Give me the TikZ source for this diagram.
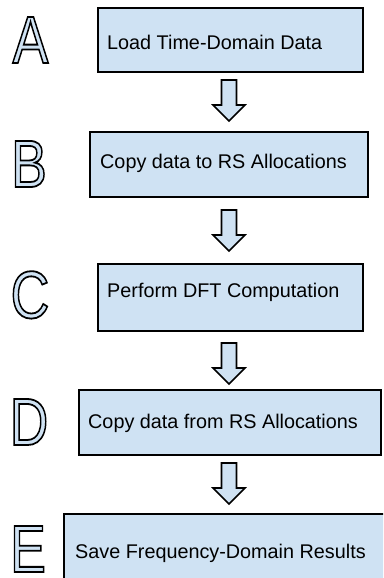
\documentclass[tikz,border=0pt]{standalone}
\usepackage{fontspec}
\setmainfont{Liberation Sans}
\definecolor{boxblue}{HTML}{CFE2F3}
\tikzset{
  stepbox/.style={draw=black, line width=1.8pt, fill=boxblue, inner sep=0pt, anchor=north west},
  openbox/.style={fill=boxblue, inner sep=0pt, anchor=north west},
  boxedge/.style={draw=black, line width=1.8pt},
  steptext/.style={anchor=west, inner sep=0pt, font=\fontsize{19.8}{24}\selectfont},
  steplabel/.style={anchor=base, inner sep=0pt, font=\fontsize{67}{67}\selectfont},
  blockarrow/.style={draw=black, line width=1.6pt, fill=boxblue, line join=miter}
}
% outlined letter: light blue fill, black stroke (text render mode 2)
\newcommand{\hollowletter}[1]{\scalebox{0.8}[1]{\color{boxblue}\special{pdf:literal direct 0 0 0 RG 1.8 w 2 Tr}#1\special{pdf:literal direct 0 Tr}}}
\begin{document}
\begin{tikzpicture}[x=1pt,y=-1pt]
\useasboundingbox (0,0) rectangle (383,578);
\clip (0,0) rectangle (383,578);

% process steps
\node[stepbox, minimum width=265pt, minimum height=64pt] (a) at (97,7) {};
\node[stepbox, minimum width=278pt, minimum height=65pt] (b) at (89,131) {};
\node[stepbox, minimum width=265pt, minimum height=67pt] (c) at (97,263) {};
\node[stepbox, minimum width=302pt, minimum height=65pt] (d) at (78,389) {};
% last step runs past the right and bottom edges
\node[openbox, minimum width=400pt, minimum height=100pt] (e) at (64,514) {};
\draw[boxedge] (e.south west) -- (e.north west) -- (e.north east);

\node[steptext] (ta) at (107,42) {Load Time-Domain Data};
\node[steptext] (tb) at (100,163) {Copy data to RS Allocations};
\node[steptext] (tc) at (107,292) {Perform DFT Computation};
\node[steptext] (td) at (88,423) {Copy data from RS Allocations};
\node[steptext] (te) at (75,553) {Save Frequency-Domain Results};

% step letters
\node[steplabel] (la) at (30.5,63) {\hollowletter{A}};
\node[steplabel] (lb) at (29,187) {\hollowletter{B}};
\node[steplabel] (lc) at (30,318) {\hollowletter{C}};
\node[steplabel] (ld) at (29,445) {\hollowletter{D}};
\node[steplabel] (le) at (28,572) {\hollowletter{E}};

% hollow block arrows between the steps
\coordinate (m1) at (229,100.5);
\coordinate (m2) at (229,230.5);
\coordinate (m3) at (229,363.5);
\coordinate (m4) at (229,483.5);
\foreach \m in {m1,m2,m3,m4}{
  \draw[blockarrow] (\m) ++(-7.5,-20.5) -- ++(15,0) -- ++(0,25) -- ++(8.5,0)
    -- ++(-16,16) -- ++(-16,-16) -- ++(8.5,0) -- cycle;
}
\end{tikzpicture}
\end{document}
